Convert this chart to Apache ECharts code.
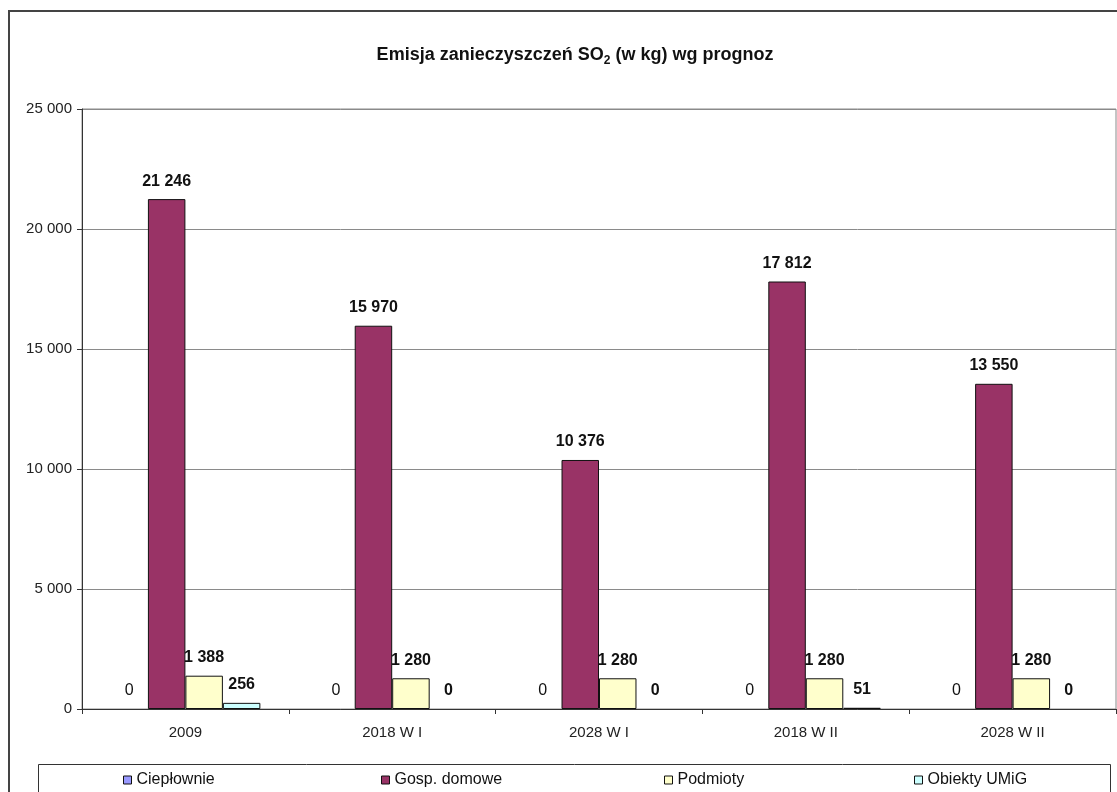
<!DOCTYPE html>
<html>
<head>
<meta charset="utf-8">
<script src="https://cdn.jsdelivr.net/npm/echarts@6/dist/echarts.min.js"></script>
<style>
  html, body { margin: 0; padding: 0; background: #ffffff; }
  #chart { width: 1117px; height: 792px; }
</style>
</head>
<body>
<div id="chart"></div>
<script>
// Emission forecast scenarios and sources
const categories = ['2009', '2018 W I', '2028 W I', '2018 W II', '2028 W II'];
const seriesNames = ['Ciepłownie', 'Gosp. domowe', 'Podmioty', 'Obiekty UMiG'];
const cieplownie = [0, 0, 0, 0, 0];
const gospDomowe = [21246, 15970, 10376, 17812, 13550];
const podmioty = [1388, 1280, 1280, 1280, 1280];
const obiektyUMiG = [256, 0, 0, 51, 0];
const yTicks = { min: 0, max: 25000, interval: 5000 };

const FONT = '"Liberation Sans", Arial, sans-serif';
const colors = ['#9999FF', '#993366', '#FFFFCC', '#CCFFFF'];
const legendLeft = [123, 381, 664, 914];

function fmt(v) {
  return String(Math.round(v)).replace(/\B(?=(\d{3})+(?!\d))/g, ' ');
}

const values = [cieplownie, gospDomowe, podmioty, obiektyUMiG];

const chart = echarts.init(document.getElementById('chart'), null, { renderer: 'canvas' });

chart.setOption({
  backgroundColor: '#ffffff',
  animation: false,
  textStyle: { fontFamily: FONT },
  title: {
    text: '{a|Emisja zanieczyszczeń SO}{s|2}{a| (w kg) wg prognoz}',
    left: 570,
    top: 38,
    textAlign: 'center',
    textStyle: {
      rich: {
        a: { fontFamily: FONT, fontSize: 18, fontWeight: 'bold', color: '#111', lineHeight: 24, verticalAlign: 'middle' },
        s: { fontFamily: FONT, fontSize: 12, fontWeight: 'bold', color: '#111', lineHeight: 13, verticalAlign: 'bottom' }
      }
    }
  },
  legend: seriesNames.map((n, i) => ({
    data: [n],
    left: legendLeft[i],
    top: 772,
    padding: 0,
    icon: 'rect',
    itemWidth: 8,
    itemHeight: 8,
    selectedMode: false,
    itemStyle: { borderColor: '#111', borderWidth: 1 },
    textStyle: { fontFamily: FONT, fontSize: 16, color: '#111' }
  })),
  grid: {
    left: 82, right: 1, top: 109, bottom: 83,
    show: true, borderColor: '#8a8a8a', borderWidth: 1
  },
  xAxis: {
    type: 'category',
    data: categories,
    axisLine: { lineStyle: { color: '#333', width: 1 } },
    axisTick: { show: true, length: 5, lineStyle: { color: '#333' } },
    axisLabel: { fontFamily: FONT, fontSize: 15, color: '#222', margin: 16 }
  },
  yAxis: {
    type: 'value',
    min: yTicks.min, max: yTicks.max, interval: yTicks.interval,
    axisLine: { show: true, lineStyle: { color: '#333', width: 1 } },
    axisTick: { show: true, length: 5, lineStyle: { color: '#333' } },
    axisLabel: { fontFamily: FONT, fontSize: 15, color: '#222', margin: 10, formatter: fmt },
    splitLine: { show: true, lineStyle: { color: '#8a8a8a', width: 1 } }
  },
  series: seriesNames.map((n, i) => ({
    name: n,
    type: 'bar',
    // zero-height bars get no outline so nothing is drawn for them
    data: values[i].map(v => v === 0 ? { value: v, itemStyle: { borderWidth: 0 } } : v),
    barGap: '0%',
    barCategoryGap: '27.5%',
    itemStyle: { color: colors[i], borderColor: '#111', borderWidth: 1 },
    label: {
      show: true,
      position: 'top',
      distance: 10,
      fontFamily: FONT,
      fontSize: 16,
      fontWeight: i === 0 ? 'normal' : 'bold',
      color: '#111',
      formatter: p => fmt(p.value)
    }
  })),
  graphic: [
    {
      type: 'rect',
      silent: true,
      shape: { x: 9, y: 11, width: 1140, height: 820 },
      style: { fill: 'none', stroke: '#444', lineWidth: 2 }
    },
    {
      type: 'rect',
      silent: true,
      shape: { x: 38.5, y: 764.5, width: 1072, height: 60 },
      style: { fill: 'none', stroke: '#333', lineWidth: 1 }
    }
  ]
});
</script>
</body>
</html>
